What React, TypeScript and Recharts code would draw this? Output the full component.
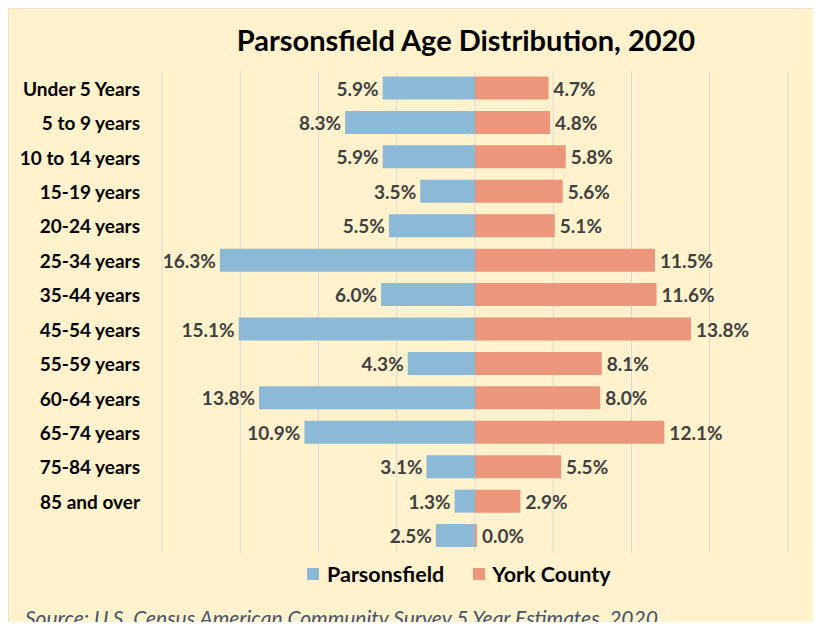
import React from "react";
import { BarChart, Bar, XAxis, YAxis, CartesianGrid, LabelList, Legend } from "recharts";

const ageGroups = [
  "Under 5 Years",
  "5 to 9 years",
  "10 to 14 years",
  "15-19 years",
  "20-24 years",
  "25-34 years",
  "35-44 years",
  "45-54 years",
  "55-59 years",
  "60-64 years",
  "65-74 years",
  "75-84 years",
  "85 and over",
  "",
];
const parsonsfield = [5.9, 8.3, 5.9, 3.5, 5.5, 16.3, 6.0, 15.1, 4.3, 13.8, 10.9, 3.1, 1.3, 2.5];
const yorkCounty = [4.7, 4.8, 5.8, 5.6, 5.1, 11.5, 11.6, 13.8, 8.1, 8.0, 12.1, 5.5, 2.9, 0.0];
const xTicks = [-20, -15, -10, -5, 0, 5, 10, 15, 20];

const data = ageGroups.map((age, i) => ({
  age,
  par: -parsonsfield[i],
  york: yorkCounty[i],
}));

const BLUE = "#8BB9D6";
const SALMON = "#EC977B";
const FONT = "Lato, 'Open Sans', sans-serif";

const AgeTick = (props: any) => {
  const { y, payload } = props;
  return (
    <text x={132} y={y} textAnchor="end" dominantBaseline="central" fontFamily={FONT} fontWeight={700} fontSize={19} fill="#000">
      {payload.value}
    </text>
  );
};

const LeftLabel = (props: any) => {
  const { x, y, width, height, value } = props;
  const left = Math.min(Number(x), Number(x) + Number(width));
  return (
    <text x={left - 4} y={Number(y) + Number(height) / 2} textAnchor="end" dominantBaseline="central" fontFamily={FONT} fontWeight={700} fontSize={19} fill="#404040">
      {Math.abs(Number(value)).toFixed(1)}%
    </text>
  );
};

const RightLabel = (props: any) => {
  const { x, y, width, height, value } = props;
  const right = Math.max(Number(x), Number(x) + Number(width));
  return (
    <text x={right + 5} y={Number(y) + Number(height) / 2} textAnchor="start" dominantBaseline="central" fontFamily={FONT} fontWeight={700} fontSize={19} fill="#404040">
      {Number(value).toFixed(1)}%
    </text>
  );
};

const LegendContent = () => (
  <div style={{ display: "flex", alignItems: "center", fontFamily: FONT, fontWeight: 700, fontSize: 21.5, color: "#000" }}>
    <span style={{ display: "inline-block", width: 12, height: 12, background: BLUE, marginRight: 8 }} />
    <span>Parsonsfield</span>
    <span style={{ display: "inline-block", width: 12, height: 12, background: SALMON, marginLeft: 29, marginRight: 7 }} />
    <span>York County</span>
  </div>
);

export default function App() {
  return (
    <div
      style={{
        position: "relative",
        width: 813,
        height: 622,
        marginBottom: -8,
        background: "#FFF2CC",
        boxShadow: "inset 1px 1px 0 0 #EDE3C6",
        overflow: "hidden",
      }}
    >
      <div
        style={{
          position: "absolute",
          top: 14,
          left: 0,
          width: 916,
          textAlign: "center",
          fontFamily: FONT,
          fontWeight: 700,
          fontSize: 29,
          color: "#000",
        }}
      >
        Parsonsfield Age Distribution, 2020
      </div>
      <BarChart
        width={813}
        height={622}
        data={data}
        layout="vertical"
        stackOffset="sign"
        barCategoryGap="16%"
        margin={{ top: 63, right: 33, bottom: 77, left: 0 }}
      >
        <CartesianGrid horizontal={false} stroke="#D9D9D9" />
        <XAxis type="number" domain={[-20, 20]} ticks={xTicks} hide />
        <YAxis type="category" dataKey="age" width={154} axisLine={false} tickLine={false} tick={<AgeTick />} interval={0} />
        <Bar dataKey="par" name="Parsonsfield" stackId="a" fill={BLUE} isAnimationActive={false}>
          <LabelList dataKey="par" content={<LeftLabel />} />
        </Bar>
        <Bar dataKey="york" name="York County" stackId="a" fill={SALMON} minPointSize={2} isAnimationActive={false}>
          <LabelList dataKey="york" content={<RightLabel />} />
        </Bar>
        <Legend
          layout="horizontal"
          verticalAlign="middle"
          align="center"
          content={<LegendContent />}
          wrapperStyle={{ top: 553, left: 299, width: 420 }}
        />
      </BarChart>
      <div
        style={{
          position: "absolute",
          top: 597,
          left: 17,
          fontFamily: FONT,
          fontStyle: "italic",
          fontSize: 21,
          lineHeight: "25px",
          color: "#44546A",
          whiteSpace: "nowrap",
        }}
      >
        Source: U.S. Census American Community Survey 5 Year Estimates, 2020
      </div>
    </div>
  );
}
